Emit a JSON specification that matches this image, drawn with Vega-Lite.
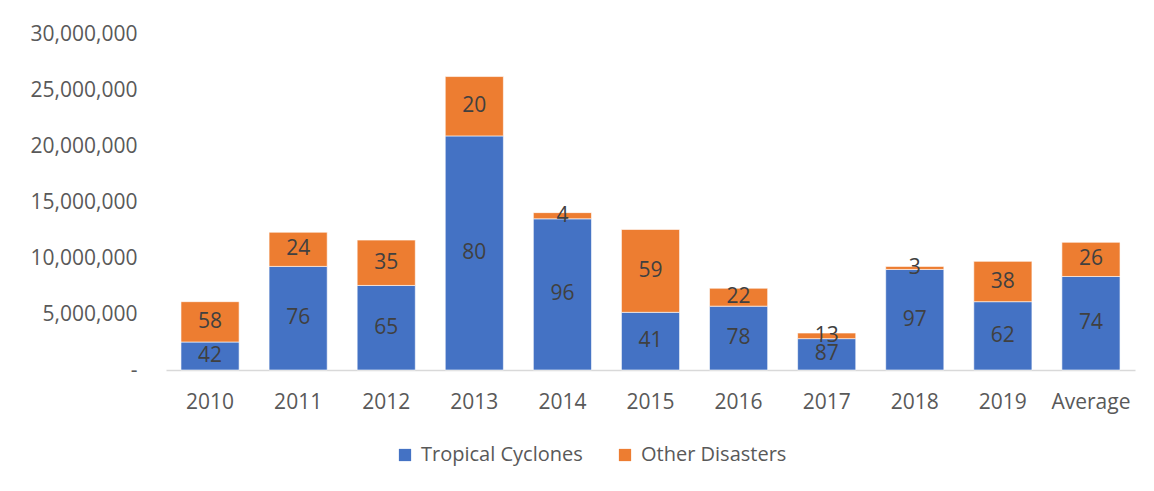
{
  "$schema": "https://vega.github.io/schema/vega-lite/v6.json",
  "width": 969,
  "height": 336,
  "autosize": {"type": "none"},
  "padding": {"left": 166, "top": 34, "right": 19, "bottom": 121},
  "background": "white",
  "config": {
    "view": {"stroke": null},
    "font": "Open Sans"
  },
  "data": {
    "values": [
      {"year": "2010", "category": "Tropical Cyclones", "value": 2500000, "pct": 42},
      {"year": "2010", "category": "Other Disasters", "value": 3600000, "pct": 58},
      {"year": "2011", "category": "Tropical Cyclones", "value": 9250000, "pct": 76},
      {"year": "2011", "category": "Other Disasters", "value": 3050000, "pct": 24},
      {"year": "2012", "category": "Tropical Cyclones", "value": 7550000, "pct": 65},
      {"year": "2012", "category": "Other Disasters", "value": 4050000, "pct": 35},
      {"year": "2013", "category": "Tropical Cyclones", "value": 20900000, "pct": 80},
      {"year": "2013", "category": "Other Disasters", "value": 5300000, "pct": 20},
      {"year": "2014", "category": "Tropical Cyclones", "value": 13500000, "pct": 96},
      {"year": "2014", "category": "Other Disasters", "value": 550000, "pct": 4},
      {"year": "2015", "category": "Tropical Cyclones", "value": 5150000, "pct": 41},
      {"year": "2015", "category": "Other Disasters", "value": 7400000, "pct": 59},
      {"year": "2016", "category": "Tropical Cyclones", "value": 5700000, "pct": 78},
      {"year": "2016", "category": "Other Disasters", "value": 1600000, "pct": 22},
      {"year": "2017", "category": "Tropical Cyclones", "value": 2800000, "pct": 87},
      {"year": "2017", "category": "Other Disasters", "value": 500000, "pct": 13},
      {"year": "2018", "category": "Tropical Cyclones", "value": 8980000, "pct": 97},
      {"year": "2018", "category": "Other Disasters", "value": 270000, "pct": 3},
      {"year": "2019", "category": "Tropical Cyclones", "value": 6100000, "pct": 62},
      {"year": "2019", "category": "Other Disasters", "value": 3600000, "pct": 38},
      {"year": "Average", "category": "Tropical Cyclones", "value": 8350000, "pct": 74},
      {"year": "Average", "category": "Other Disasters", "value": 3050000, "pct": 26}
    ]
  },
  "transform": [
    {"stack": "value", "groupby": ["year"], "sort": [{"field": "category", "order": "descending"}], "as": ["v0", "v1"]},
    {"calculate": "(datum.v0 + datum.v1) / 2", "as": "vmid"}
  ],
  "encoding": {
    "x": {
      "field": "year", "type": "nominal", "sort": null,
      "scale": {"paddingInner": 0.34, "paddingOuter": 0.17},
      "axis": {
        "title": null, "labelAngle": 0, "ticks": false, "labelPadding": 21,
        "labelFontSize": 21, "labelColor": "#595959", "domainColor": "#d9d9d9", "domainWidth": 1.5
      }
    }
  },
  "layer": [
    {
      "mark": {"type": "bar", "stroke": "#ffffff", "strokeWidth": 1, "strokeOpacity": 0.6},
      "encoding": {
        "y": {
          "field": "v0", "type": "quantitative",
          "scale": {"domain": [0, 30000000], "nice": false},
          "axis": {
            "title": null, "values": [0, 5000000, 10000000, 15000000, 20000000, 25000000, 30000000],
            "labelExpr": "datum.value == 0 ? '-' : format(datum.value, ',')",
            "labelOverlap": false,
            "ticks": false, "domain": false, "grid": false, "labelPadding": 29,
            "labelFontSize": 21, "labelColor": "#595959"
          }
        },
        "y2": {"field": "v1"},
        "color": {
          "field": "category", "type": "nominal",
          "scale": {"domain": ["Tropical Cyclones", "Other Disasters"], "range": ["#4472C4", "#ED7D31"]},
          "legend": {
            "title": null, "orient": "none", "direction": "horizontal",
            "legendX": 229, "legendY": 411,
            "symbolType": "square", "symbolSize": 150, "symbolStrokeWidth": 0,
            "labelFontSize": 20, "labelLimit": 400, "labelColor": "#595959", "labelOffset": 6, "columnPadding": 32
          }
        }
      }
    },
    {
      "mark": {"type": "text", "fontSize": 21, "color": "#404040", "baseline": "middle"},
      "encoding": {
        "y": {"field": "vmid", "type": "quantitative"},
        "text": {"field": "pct", "type": "quantitative"}
      }
    }
  ]
}
